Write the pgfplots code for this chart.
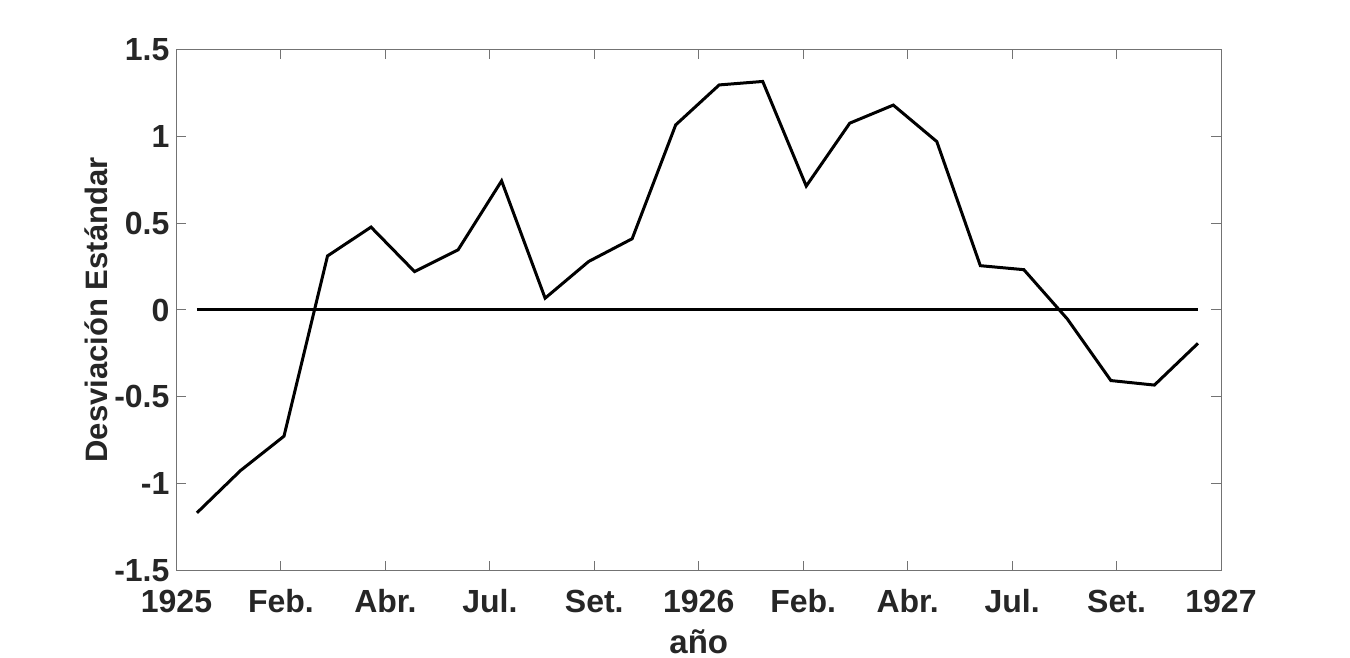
\documentclass[border=0pt]{standalone}
\usepackage{pgfplots}
\pgfplotsset{compat=1.18}
\usepackage{fontspec}
\setmainfont{Liberation Sans}

\begin{document}
\begin{tikzpicture}
% 1 px of the reference = 0.5pt
\useasboundingbox (-88.25pt,-43.65pt) rectangle (586.75pt,285.35pt);
\begin{axis}[
    at={(0pt,0pt)}, anchor=south west,
    scale only axis,
    width=522.25pt, height=260.7pt,
    xmin=0, xmax=24,
    ymin=-1.5, ymax=1.5,
    xtick={0,2.4,4.8,7.2,9.6,12,14.4,16.8,19.2,21.6,24},
    xticklabels={1925,Feb.,Abr.,Jul.,Set.,1926,Feb.,Abr.,Jul.,Set.,1927},
    ytick={-1.5,-1,-0.5,0,0.5,1,1.5},
    yticklabels={-1.5,-1,-0.5,0,0.5,1,1.5},
    tick align=inside,
    major tick length=5pt,
    axis line style={black!55, line width=0.5pt},
    tick style={black!55, line width=0.5pt},
    ticklabel style={font=\bfseries\fontsize{16}{18}\selectfont, text=black!85},
    xticklabel style={yshift=-6pt},
    xlabel style={font=\bfseries\fontsize{16.5}{18}\selectfont, text=black!85, yshift=-1.5pt},
    ylabel style={font=\bfseries\fontsize{15.5}{18}\selectfont, text=black!85, yshift=-3.5pt},
    xlabel={año},
    ylabel={Desviación Estándar},
    clip=false,
]
% linea de cero
\addplot[black, line width=1.5pt] coordinates {(0.47,0) (23.47,0)};
% desviacion estandar mensual
\addplot[black, line width=1.5pt] coordinates {
(0.47,-1.167) (1.47,-0.924) (2.47,-0.726) (3.47,0.311)
(4.47,0.477) (5.47,0.221) (6.47,0.346) (7.47,0.743)
(8.47,0.068) (9.47,0.279) (10.47,0.410) (11.47,1.065)
(12.47,1.295) (13.47,1.315) (14.47,0.713) (15.47,1.075)
(16.47,1.179) (17.47,0.969) (18.47,0.255) (19.47,0.232)
(20.47,-0.052) (21.47,-0.406) (22.47,-0.432) (23.47,-0.192)
};
\end{axis}
\end{tikzpicture}
\end{document}
